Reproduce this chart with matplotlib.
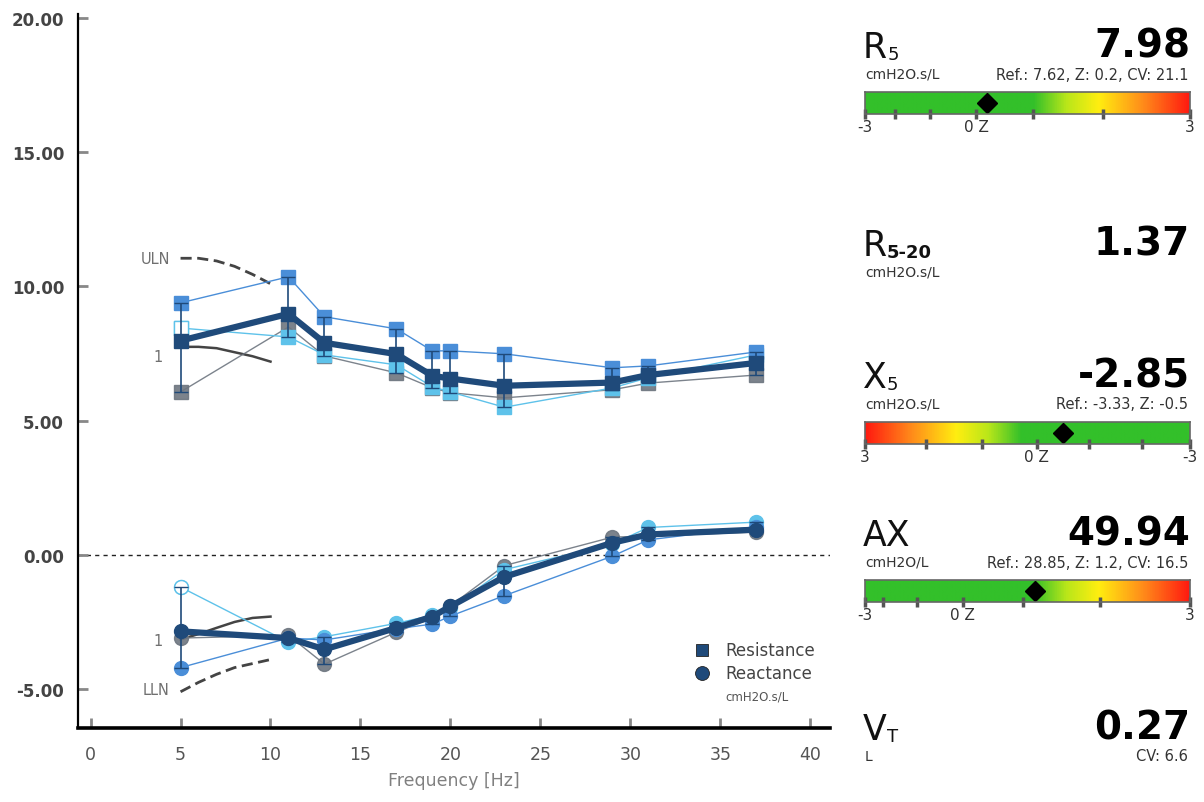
import numpy as np
import matplotlib
matplotlib.use('Agg')
import matplotlib.pyplot as plt
from matplotlib.colors import LinearSegmentedColormap

freq = [5, 11, 13, 17, 19, 20, 23, 29, 31, 37]

# resistance, three trials + mean
res_t1 = [9.39, 10.36, 8.87, 8.42, 7.60, 7.60, 7.49, 6.97, 7.04, 7.56]
res_t2 = [6.07, 8.49, 7.41, 6.78, 6.22, 6.04, 5.85, 6.15, 6.40, 6.70]
res_t3 = [8.45, 8.12, 7.45, 7.08, 6.26, 6.07, 5.50, 6.22, 6.60, 7.45]
res_mean = [7.98, 8.98, 7.90, 7.48, 6.67, 6.57, 6.30, 6.42, 6.70, 7.15]

# reactance, three trials + mean
rea_t1 = [-4.20, -3.10, -3.17, -2.75, -2.58, -2.28, -1.52, -0.05, 0.56, 1.05]
rea_t2 = [-3.10, -3.00, -4.07, -2.88, -2.35, -1.90, -0.40, 0.66, 0.70, 0.85]
rea_t3 = [-1.20, -3.25, -3.05, -2.55, -2.25, -1.98, -0.55, 0.40, 1.02, 1.22]
rea_mean = [-2.85, -3.10, -3.52, -2.72, -2.30, -1.92, -0.82, 0.45, 0.76, 0.94]

# reference curves
ref_f = [5, 6, 7, 8, 9, 10]
res_uln = [11.05, 11.05, 10.95, 10.75, 10.45, 10.10]
res_pred = [7.75, 7.75, 7.70, 7.55, 7.40, 7.20]
rea_pred = [-3.15, -2.95, -2.72, -2.50, -2.35, -2.30]
rea_lln = [-5.10, -4.75, -4.45, -4.20, -4.05, -3.90]

yticks = [-5, 0, 5, 10, 15, 20]
xticks = [0, 5, 10, 15, 20, 25, 30, 35, 40]

# right hand panel
params = [
    dict(name='R', sub='5', unit='cmH2O.s/L', value='7.98',
         info='Ref.: 7.62, Z: 0.2, CV: 21.1'),
    dict(name='R', sub='5-20', unit='cmH2O.s/L', value='1.37', info=''),
    dict(name='X', sub='5', unit='cmH2O.s/L', value='-2.85',
         info='Ref.: -3.33, Z: -0.5'),
    dict(name='AX', sub='', unit='cmH2O/L', value='49.94',
         info='Ref.: 28.85, Z: 1.2, CV: 16.5'),
    dict(name='V', sub='T', unit='L', value='0.27', info='CV: 6.6'),
]
# gauge tick fractions, marker fraction, end labels, reversed colours
gauges = {
    0: dict(ticks=[0, 0.092, 0.2, 0.342, 0.517, 0.732, 1], zero=0.342,
            mark=0.375, ends=('-3', '3'), rev=False),
    2: dict(ticks=[0, 0.188, 0.359, 0.528, 0.69, 0.851, 1], zero=0.528,
            mark=0.608, ends=('3', '-3'), rev=True),
    3: dict(ticks=[0, 0.056, 0.159, 0.3, 0.487, 0.723, 1], zero=0.30,
            mark=0.523, ends=('-3', '3'), rev=False),
}

navy = '#1f4a7a'
blue = '#4a8ed8'
gray = '#6e7680'
cyan = '#5ec2ea'

W, H = 1204, 803
fig = plt.figure(figsize=(W / 100, H / 100), dpi=100)
ax = fig.add_axes([78 / W, 1 - 729 / H, 752 / W, 714 / H])

ax.axhline(0, color='#222222', ls=(0, (3, 3)), lw=1, zorder=1)

# reference curves
ax.plot(ref_f, res_uln, color='#444444', ls=(0, (4, 2)), lw=2)
ax.plot(ref_f, res_pred, color='#444444', lw=1.8)
ax.plot(ref_f, rea_pred, color='#444444', lw=1.8)
ax.plot(ref_f, rea_lln, color='#444444', ls=(0, (4, 2)), lw=2)
ax.text(4.4, 11.05, 'ULN', color='#707070', fontsize=10.5, ha='right', va='center')
ax.text(4.0, 7.4, '1', color='#707070', fontsize=10.5, ha='right', va='center')
ax.text(4.0, -3.2, '1', color='#707070', fontsize=10.5, ha='right', va='center')
ax.text(4.4, -5.0, 'LLN', color='#707070', fontsize=10.5, ha='right', va='center')


def trials(mk, t1, t2, t3, mean):
    ms = 10
    ax.plot(freq, t2, color=gray, lw=1, marker=mk, ms=ms, mfc=gray,
            mec=gray, alpha=0.9, zorder=3)
    ax.plot(freq, t3, color=cyan, lw=1, marker=mk, ms=ms, mfc=cyan,
            mec=cyan, zorder=3)
    ax.plot(freq[:1], t3[:1], ls='none', marker=mk, ms=ms, mfc='white',
            mec=cyan, zorder=3)
    ax.plot(freq, t1, color=blue, lw=1, marker=mk, ms=ms, mfc=blue,
            mec=blue, zorder=3)
    lo = np.min([t1, t2, t3], axis=0)
    hi = np.max([t1, t2, t3], axis=0)
    m = np.array(mean)
    ax.errorbar(freq, m, yerr=[m - lo, hi - m], fmt='none', ecolor=navy,
                elinewidth=1.2, capsize=5, zorder=4)
    ax.plot(freq, mean, color=navy, lw=4.5, marker=mk, ms=ms, mfc=navy,
            mec=navy, zorder=5)


trials('s', res_t1, res_t2, res_t3, res_mean)
trials('o', rea_t1, rea_t2, rea_t3, rea_mean)

# legend
ax.plot([34.0], [-3.55], ls='none', marker='s', ms=9, color=navy,
        mec='#222222', mew=0.6)
ax.plot([34.0], [-4.4], ls='none', marker='o', ms=10, color=navy,
        mec='#222222', mew=0.6)
ax.text(35.3, -3.55, 'Resistance', fontsize=12, color='#444444', va='center')
ax.text(35.3, -4.4, 'Reactance', fontsize=12, color='#444444', va='center')
ax.text(35.3, -5.25, 'cmH2O.s/L', fontsize=8.5, color='#555555', va='center')

ax.set_xlim(-0.7, 41.1)
ax.set_ylim(-6.45, 20.15)
ax.set_yticks(yticks)
ax.set_yticklabels(['%.2f' % v for v in yticks], fontweight='bold',
                   color='#444444', fontsize=12)
ax.set_xticks(xticks)
ax.set_xticklabels([str(v) for v in xticks], color='#555555', fontsize=12.5)
ax.tick_params(direction='in', length=7, width=2, color='#888888', pad=12)
ax.tick_params(axis='y', pad=10)
for s in ['top', 'right']:
    ax.spines[s].set_visible(False)
ax.spines['left'].set_linewidth(1.6)
ax.spines['bottom'].set_linewidth(2.6)
ax.set_xlabel('Frequency [Hz]', color='#808080', fontsize=12.5, labelpad=6)

# right panel
cmap = LinearSegmentedColormap.from_list(
    'zg', [(0, '#33c02a'), (0.52, '#33c02a'), (0.62, '#b8e61a'),
           (0.72, '#ffee10'), (0.86, '#ff8a1a'), (1, '#ff1a10')])
rows_y = [45, 243, 375, 533, 727]
xl, xr = 865, 1190


def px(x, y):
    return x / W, 1 - y / H


for i, p in enumerate(params):
    y0 = rows_y[i]
    t = fig.text(*px(xl - 2, y0 + 13), p['name'], fontsize=25, va='baseline',
                 ha='left', color='#111111')
    if p['sub']:
        ax.annotate(p['sub'], xy=(1, 0.02), xycoords=t, fontsize=13,
                    fontweight='bold' if p['sub'] == '5-20' else 'normal',
                    va='bottom', ha='left', color='#111111',
                    annotation_clip=False)
    fig.text(*px(xr, y0 + 13), p['value'], fontsize=28, fontweight='bold',
             ha='right', va='baseline', color='#000000')
    fig.text(*px(xl, y0 + 30), p['unit'], fontsize=10, ha='left',
             va='center', color='#333333')
    if p['info']:
        fig.text(*px(xr - 2, y0 + 30), p['info'], fontsize=10.5, ha='right',
                 va='center', color='#333333')
    if i in gauges:
        g = gauges[i]
        gy = y0 + 48
        gax = fig.add_axes([xl / W, 1 - (gy + 22) / H, (xr - xl) / W, 22 / H])
        grad = np.linspace(0, 1, 400)
        if g['rev']:
            grad = grad[::-1]
        gax.imshow(grad[None, :], aspect='auto', cmap=cmap,
                   extent=[0, 1, 0, 1])
        gax.plot([g['mark']], [0.5], marker='D', ms=10, color='black',
                 ls='none')
        gax.set_xlim(0, 1)
        gax.set_ylim(0, 1)
        gax.set_yticks([])
        gax.set_xticks(g['ticks'])
        gax.set_xticklabels([])
        gax.tick_params(axis='x', direction='inout', length=7, width=2.5,
                        color='#555555')
        for s in gax.spines.values():
            s.set_color('#666666')
            s.set_linewidth(1.2)
        fig.text(*px(xl, gy + 35), g['ends'][0], fontsize=11, ha='center',
                 va='center', color='#333333')
        fig.text(*px(xr, gy + 35), g['ends'][1], fontsize=11, ha='center',
                 va='center', color='#333333')
        fig.text(*px(xl + g['zero'] * (xr - xl), gy + 35), '0 Z',
                 fontsize=11, ha='center', va='center', color='#333333')

fig.savefig('out.png', dpi=100)
